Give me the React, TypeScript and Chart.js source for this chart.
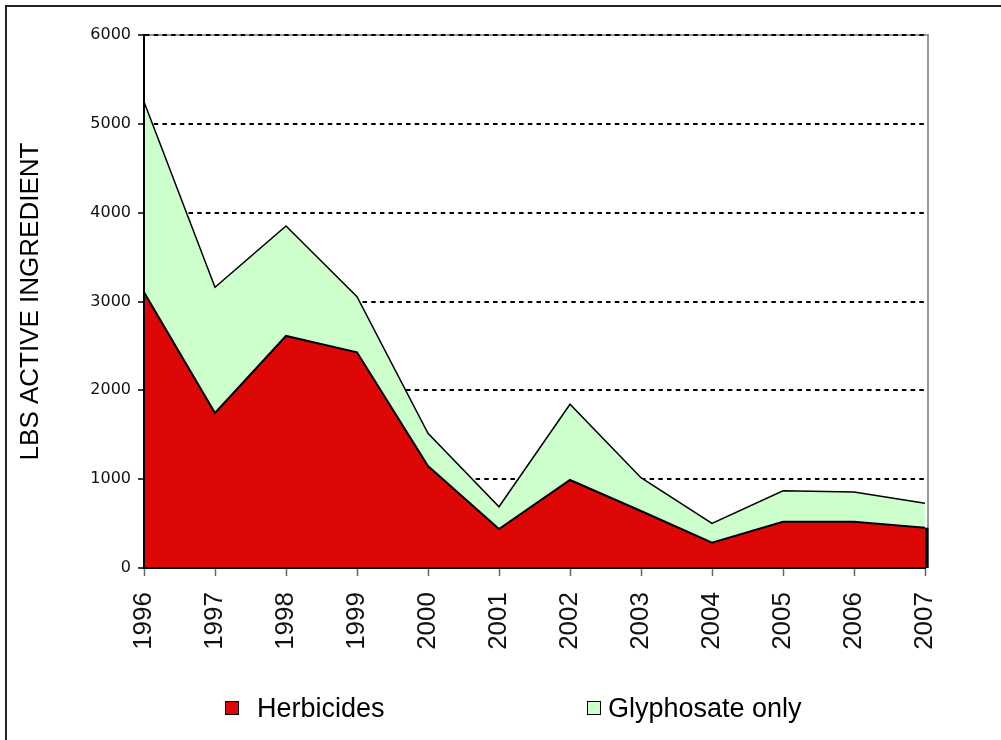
import React, { useEffect, useRef } from 'react';
import { Chart, registerables } from 'chart.js';

Chart.register(...registerables);

const years = ['1996', '1997', '1998', '1999', '2000', '2001', '2002', '2003', '2004', '2005', '2006', '2007'];
const herbicides = [3104, 1745, 2612, 2428, 1148, 439, 991, 642, 285, 521, 521, 454];
const glyphosateOnly = [2145, 1415, 1238, 626, 368, 251, 852, 375, 218, 349, 335, 274];
const seriesNames = ['Herbicides', 'Glyphosate only'];
const seriesColors = ['#DD0806', '#CCFFCC'];
const yAxisTitle = 'LBS ACTIVE INGREDIENT';
const yMin = 0;
const yMax = 6000;
const yStep = 1000;

const framePlugin = {
  id: 'framePlugin',
  beforeDraw(chart: any) {
    const { ctx, chartArea } = chart;
    ctx.save();
    ctx.strokeStyle = '#999';
    ctx.lineWidth = 2;
    ctx.beginPath();
    ctx.moveTo(chartArea.left, chartArea.top);
    ctx.lineTo(chartArea.right + 3, chartArea.top);
    ctx.lineTo(chartArea.right + 3, chartArea.bottom);
    ctx.stroke();
    ctx.restore();
  },
  afterDatasetsDraw(chart: any) {
    const { ctx } = chart;
    const xs = chart.scales.x;
    const ys = chart.scales.y;
    const last = herbicides.length - 1;
    const x = xs.getPixelForValue(last);
    const yTop = ys.getPixelForValue(herbicides[last]);
    const yBot = ys.getPixelForValue(0);
    ctx.save();
    ctx.fillStyle = '#000';
    ctx.fillRect(x, yTop, 3.5, yBot - yTop);
    ctx.restore();
  },
};

export default function App() {
  const ref = useRef<HTMLCanvasElement>(null);
  useEffect(() => {
    const chart = new Chart(ref.current as HTMLCanvasElement, {
      type: 'line',
      data: {
        labels: years,
        datasets: [
          {
            label: seriesNames[0],
            data: herbicides,
            fill: 'origin',
            backgroundColor: seriesColors[0],
            borderColor: '#000',
            borderWidth: 2,
            pointRadius: 0,
            tension: 0,
          },
          {
            label: seriesNames[1],
            data: glyphosateOnly,
            fill: '-1',
            backgroundColor: seriesColors[1],
            borderColor: '#000',
            borderWidth: 1.5,
            pointRadius: 0,
            tension: 0,
          },
        ],
      },
      options: {
        animation: false,
        responsive: false,
        maintainAspectRatio: false,
        layout: { padding: { left: 0, top: 35, right: 76, bottom: 0 } },
        plugins: { legend: { display: false }, tooltip: { enabled: false } },
        scales: {
          x: {
            type: 'category',
            offset: false,
            grid: { drawOnChartArea: false, drawTicks: true, tickLength: 8, tickColor: '#666', tickWidth: 1.5 },
            border: { color: '#000', width: 2, z: 1 },
            ticks: {
              maxRotation: 90,
              minRotation: 90,
              autoSkip: false,
              padding: 16,
              color: '#111',
              font: { family: 'Liberation Sans', size: 26 },
            },
            afterFit: (s: any) => {
              s.height = 740 - 568;
            },
          },
          y: {
            stacked: true,
            min: yMin,
            max: yMax,
            ticks: {
              stepSize: yStep,
              padding: 7,
              color: '#111',
              font: { family: 'DejaVu Sans', size: 16 },
              callback: (v: any) => String(v),
            },
            grid: {
              color: (c: any) => (c.tick && c.tick.value === 0 ? 'rgba(0,0,0,0)' : '#000'),
              lineWidth: 2,
              tickColor: '#000',
              tickWidth: 1.5,
              tickLength: 6,
              tickBorderDash: [],
            },
            border: { color: '#000', width: 2, z: 1, dash: [4.5, 4.2] },
            title: {
              display: true,
              text: yAxisTitle,
              color: '#000',
              font: { family: 'Liberation Sans', size: 26, weight: 'normal' },
              padding: { top: 15, bottom: 0 },
            },
            afterFit: (s: any) => {
              s.width = 144;
            },
          },
        },
      },
      plugins: [framePlugin],
    });
    return () => chart.destroy();
  }, []);

  const legendFont = { fontFamily: 'Liberation Sans', fontSize: 27, lineHeight: '30px', color: '#000' };
  return (
    <div style={{ position: 'fixed', left: 0, top: 0, width: 1001, height: 740, background: '#fff', overflow: 'hidden' }}>
      <div
        style={{
          position: 'absolute',
          left: 5,
          top: 5,
          width: 1100,
          height: 900,
          borderLeft: '2px solid #222',
          borderTop: '2px solid #222',
        }}
      />
      <canvas ref={ref} width={1001} height={740} style={{ position: 'absolute', left: 0, top: 0, width: 1001, height: 740 }} />
      <div style={{ position: 'absolute', left: 225, top: 701, width: 12, height: 12, background: seriesColors[0], border: '1px solid #000' }} />
      <div style={{ position: 'absolute', left: 257, top: 693, whiteSpace: 'nowrap', ...legendFont }}>{seriesNames[0]}</div>
      <div style={{ position: 'absolute', left: 587, top: 701, width: 12, height: 12, background: seriesColors[1], border: '1px solid #000' }} />
      <div style={{ position: 'absolute', left: 608, top: 693, whiteSpace: 'nowrap', ...legendFont }}>{seriesNames[1]}</div>
    </div>
  );
}
